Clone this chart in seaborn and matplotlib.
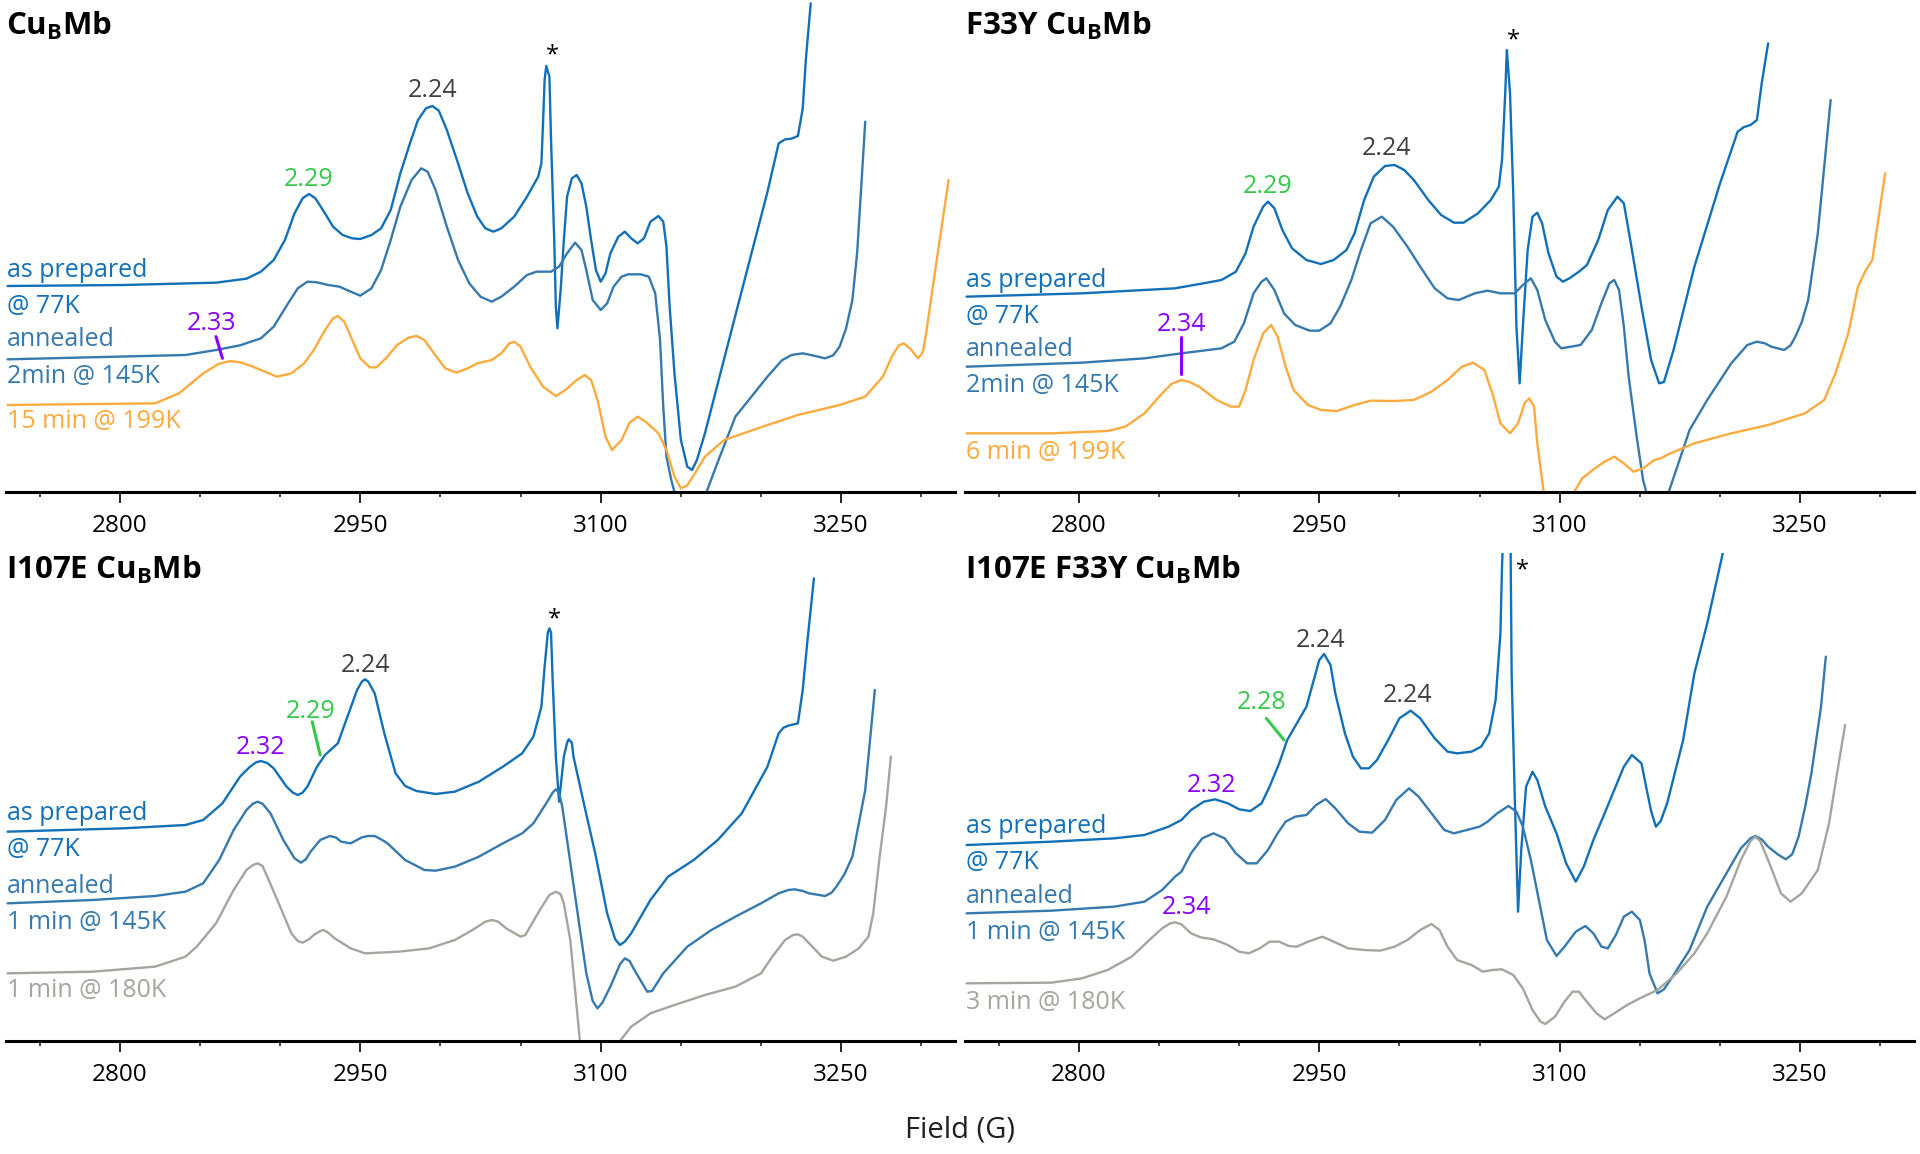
import matplotlib
matplotlib.use("Agg")
import matplotlib.pyplot as plt
import seaborn as sns

# ---- data (field in G, intensity in arbitrary units) ----
# top-left: CuBMb
tl_prep_field = [2730, 2802, 2860, 2879, 2888, 2896, 2903, 2909, 2914, 2918, 2922, 2928, 2933, 2939, 2945, 2950,
                 2957, 2963, 2969, 2975, 2981, 2986, 2991, 2995, 2999, 3004, 3011, 3017, 3023, 3028, 3033, 3038,
                 3046, 3054, 3061, 3063, 3064, 3065, 3066, 3068, 3069, 3071, 3072, 3073, 3075, 3077, 3079, 3082,
                 3085, 3088, 3091, 3094, 3097, 3100, 3103, 3106, 3111, 3115, 3119, 3123, 3127, 3131, 3136, 3139,
                 3141, 3143, 3146, 3150, 3154, 3157, 3160, 3165, 3184, 3204, 3211, 3215, 3219, 3223, 3226, 3228,
                 3231]
tl_prep_int = [618, 621, 628, 640, 661, 696, 756, 836, 881, 894, 881, 836, 796, 771, 761, 759,
               771, 791, 846, 956, 1046, 1116, 1151, 1158, 1144, 1086, 986, 896, 826, 791, 781, 791,
               826, 886, 946, 986, 1106, 1236, 1278, 1246, 1056, 756, 556, 491, 606, 756, 886, 941,
               951, 926, 856, 756, 666, 631, 656, 716, 766, 781, 761, 746, 761, 811, 828, 811,
               736, 556, 356, 156, 76, 66, 96, 176, 530, 900, 1046, 1058, 1060, 1068, 1150, 1300,
               1466]
tl_ann_field = [2730, 2841, 2860, 2875, 2888, 2896, 2905, 2911, 2917, 2923, 2930, 2937, 2944, 2950, 2957, 2963,
                2969, 2975, 2982, 2988, 2992, 2997, 3004, 3011, 3018, 3025, 3032, 3038, 3046, 3054, 3060, 3069,
                3074, 3079, 3084, 3088, 3091, 3095, 3100, 3104, 3108, 3113, 3117, 3125, 3130, 3134, 3137, 3139,
                3141, 3144, 3146, 3155, 3166, 3173, 3184, 3204, 3213, 3219, 3226, 3232, 3240, 3245, 3249, 3253,
                3257, 3260, 3262, 3265]
tl_ann_int = [398, 411, 426, 440, 461, 496, 566, 611, 631, 629, 621, 616, 601, 589, 611, 666,
              756, 856, 936, 971, 961, 906, 796, 696, 626, 586, 571, 586, 616, 651, 661, 661,
              676, 716, 748, 726, 666, 576, 546, 566, 616, 646, 653, 653, 646, 596, 456, 256,
              106, 36, 0, -250, 0, 90, 226, 346, 395, 411, 416, 410, 401, 410, 436, 490,
              576, 720, 876, 1111]
tl_hot_field = [2730, 2822, 2837, 2852, 2862, 2869, 2876, 2883, 2888, 2898, 2907, 2915, 2921, 2928, 2933, 2936,
                2940, 2945, 2950, 2956, 2960, 2966, 2973, 2980, 2985, 2990, 2996, 3003, 3010, 3017, 3023, 3032,
                3038, 3043, 3046, 3050, 3056, 3064, 3072, 3078, 3085, 3090, 3094, 3098, 3103, 3107, 3113, 3118,
                3123, 3128, 3136, 3141, 3146, 3150, 3154, 3158, 3165, 3177, 3204, 3223, 3249, 3265, 3276, 3282,
                3286, 3289, 3293, 3298, 3301, 3303, 3309, 3317]
tl_hot_int = [261, 266, 296, 356, 385, 393, 388, 376, 366, 346, 356, 386, 426, 486, 521, 528,
              511, 456, 401, 374, 374, 401, 441, 463, 468, 456, 416, 371, 358, 371, 386, 396,
              416, 446, 451, 436, 376, 316, 288, 306, 336, 351, 336, 276, 166, 126, 156, 208,
              226, 211, 176, 126, 46, 11, 20, 50, 106, 156, 201, 231, 261, 286, 346, 410,
              440, 446, 430, 401, 420, 476, 676, 936]

# top-right: F33Y CuBMb
tr_prep_field = [2730, 2802, 2860, 2880, 2889, 2898, 2904, 2909, 2915, 2918, 2922, 2927, 2933, 2942, 2951, 2959,
                 2967, 2972, 2978, 2984, 2991, 2997, 3003, 3009, 3018, 3026, 3034, 3040, 3049, 3057, 3062, 3064,
                 3066, 3067, 3069, 3071, 3073, 3075, 3077, 3080, 3083, 3086, 3089, 3093, 3098, 3102, 3106, 3112,
                 3117, 3124, 3130, 3136, 3140, 3144, 3151, 3157, 3162, 3165, 3171, 3184, 3200, 3211, 3215, 3219,
                 3223, 3226, 3230]
tr_prep_int = [586, 596, 611, 628, 636, 661, 716, 796, 856, 871, 851, 786, 731, 696, 684, 696,
               726, 776, 876, 946, 978, 981, 966, 936, 876, 831, 808, 808, 836, 876, 916, 996,
               1196, 1326, 1196, 896, 496, 326, 496, 726, 826, 838, 806, 716, 646, 631, 641, 661,
               681, 756, 846, 886, 866, 756, 556, 396, 326, 330, 426, 676, 926, 1081, 1095, 1101,
               1116, 1226, 1346]
tr_ann_field = [2730, 2802, 2841, 2864, 2889, 2897, 2903, 2909, 2914, 2917, 2922, 2928, 2935, 2944, 2950, 2957,
                2963, 2970, 2976, 2982, 2989, 2996, 3005, 3013, 3022, 3030, 3037, 3047, 3055, 3063, 3072, 3077,
                3082, 3086, 3091, 3097, 3101, 3107, 3113, 3120, 3126, 3131, 3134, 3137, 3140, 3143, 3148, 3152,
                3154, 3161, 3168, 3181, 3192, 3207, 3217, 3223, 3228, 3232, 3240, 3244, 3247, 3251, 3255, 3261,
                3265, 3269]
tr_ann_int = [376, 388, 401, 416, 431, 451, 506, 596, 631, 641, 606, 536, 501, 484, 484, 506,
              556, 636, 726, 806, 826, 796, 736, 676, 611, 581, 576, 596, 604, 596, 596, 621,
              641, 606, 516, 451, 431, 436, 441, 486, 566, 626, 636, 606, 496, 346, 166, 36,
              0, -200, 0, 186, 276, 386, 441, 451, 446, 436, 426, 440, 466, 510, 576, 776,
              976, 1176]
tr_hot_field = [2730, 2783, 2818, 2829, 2841, 2852, 2858, 2864, 2869, 2875, 2886, 2895, 2900, 2904, 2909, 2915,
                2920, 2924, 2929, 2934, 2943, 2951, 2961, 2972, 2982, 2997, 3009, 3020, 3030, 3039, 3046, 3053,
                3058, 3063, 3069, 3074, 3078, 3081, 3084, 3086, 3089, 3090, 3098, 3109, 3114, 3122, 3128, 3134,
                3140, 3146, 3152, 3159, 3163, 3169, 3184, 3207, 3230, 3253, 3265, 3272, 3280, 3286, 3291, 3295,
                3299, 3303]
tr_hot_int = [176, 176, 183, 196, 236, 296, 325, 336, 330, 316, 276, 256, 256, 306, 396, 476,
              501, 466, 376, 306, 261, 246, 243, 261, 274, 273, 276, 301, 336, 376, 388, 366,
              296, 206, 176, 206, 266, 281, 256, 146, 36, 0, -200, 0, 41, 71, 91, 106,
              86, 61, 71, 96, 101, 116, 146, 176, 201, 236, 276, 356, 476, 616, 666, 696,
              826, 956]

# bottom-left: I107E CuBMb
bl_prep_field = [2730, 2802, 2841, 2852, 2864, 2875, 2881, 2885, 2888, 2892, 2896, 2904, 2908, 2911, 2914, 2917,
                 2923, 2928, 2936, 2942, 2948, 2951, 2953, 2955, 2959, 2965, 2972, 2978, 2985, 2997, 3009, 3024,
                 3039, 3051, 3058, 3063, 3065, 3067, 3068, 3069, 3070, 3072, 3074, 3077, 3079, 3080, 3082, 3083,
                 3089, 3097, 3104, 3109, 3112, 3115, 3119, 3131, 3142, 3158, 3173, 3188, 3204, 3211, 3214, 3217,
                 3223, 3226, 3229, 3233]
bl_prep_int = [628, 638, 648, 663, 713, 793, 822, 836, 840, 834, 818, 763, 745, 738, 745, 763,
               823, 858, 893, 973, 1053, 1078, 1085, 1078, 1043, 923, 803, 765, 750, 741, 748, 778,
               823, 863, 913, 1003, 1123, 1225, 1238, 1225, 1083, 853, 718, 853, 895, 905, 895, 853,
               723, 553, 383, 305, 288, 298, 323, 423, 493, 543, 603, 683, 823, 923, 940, 946,
               953, 1053, 1203, 1388]
bl_ann_field = [2730, 2783, 2822, 2841, 2852, 2862, 2871, 2879, 2883, 2886, 2889, 2894, 2902, 2909, 2913, 2916,
                2919, 2925, 2931, 2935, 2938, 2944, 2951, 2955, 2959, 2963, 2967, 2978, 2990, 2997, 3009, 3024,
                3039, 3051, 3058, 3066, 3070, 3072, 3074, 3076, 3079, 3085, 3091, 3095, 3098, 3101, 3106, 3112,
                3115, 3118, 3121, 3129, 3132, 3139, 3154, 3169, 3184, 3200, 3211, 3217, 3221, 3226, 3230, 3240,
                3244, 3247, 3252, 3257, 3265, 3268, 3271]
bl_ann_int = [413, 423, 435, 448, 473, 543, 633, 693, 712, 718, 712, 683, 603, 548, 535, 545,
              568, 603, 615, 610, 598, 593, 611, 615, 615, 605, 593, 543, 513, 511, 523, 553,
              593, 623, 653, 713, 745, 755, 745, 703, 603, 403, 203, 120, 98, 115, 163, 230,
              248, 240, 213, 148, 150, 203, 283, 333, 373, 413, 443, 453, 455, 450, 443, 435,
              445, 463, 500, 553, 753, 903, 1053]
bl_hot_field = [2730, 2783, 2822, 2841, 2848, 2860, 2871, 2879, 2883, 2886, 2889, 2892, 2900, 2907, 2911, 2914,
                2918, 2921, 2925, 2927, 2930, 2934, 2944, 2953, 2974, 2993, 3009, 3020, 3028, 3032, 3036, 3041,
                3050, 3053, 3056, 3062, 3068, 3072, 3075, 3077, 3081, 3084, 3087, 3098, 3112, 3119, 3131, 3146,
                3165, 3184, 3200, 3207, 3215, 3220, 3223, 3226, 3230, 3238, 3245, 3253, 3261, 3267, 3270, 3274,
                3278, 3281]
bl_hot_int = [203, 208, 223, 253, 283, 353, 453, 513, 528, 533, 525, 493, 403, 323, 300, 295,
              305, 318, 330, 333, 325, 308, 278, 263, 268, 278, 303, 333, 358, 363, 358, 338,
              313, 318, 343, 393, 438, 448, 440, 413, 303, 153, 0, -200, 0, 43, 83, 108,
              138, 163, 203, 253, 303, 318, 320, 313, 293, 253, 241, 253, 278, 313, 383, 553,
              703, 853]

# bottom-right: I107E F33Y CuBMb
br_prep_field = [2730, 2783, 2822, 2841, 2856, 2864, 2870, 2878, 2885, 2893, 2900, 2907, 2914, 2919, 2925, 2930,
                 2936, 2942, 2946, 2950, 2953, 2957, 2960, 2966, 2971, 2976, 2981, 2986, 2993, 3000, 3007, 3013,
                 3022, 3030, 3036, 3045, 3051, 3056, 3060, 3063, 3064, 3066, 3069, 3070, 3072, 3074, 3076, 3079,
                 3083, 3086, 3091, 3098, 3104, 3110, 3115, 3121, 3128, 3134, 3140, 3145, 3151, 3154, 3157, 3160,
                 3163, 3167, 3177, 3184, 3192, 3204]
br_prep_int = [588, 598, 608, 618, 643, 663, 693, 718, 725, 713, 695, 690, 713, 763, 833, 903,
               953, 1003, 1073, 1143, 1161, 1128, 1043, 923, 853, 818, 818, 843, 903, 968, 991, 968,
               908, 868, 863, 868, 883, 923, 1023, 1223, 1423, 1700, 1700, 1100, 723, 388, 573, 763,
               808, 783, 703, 623, 533, 478, 523, 603, 683, 753, 823, 858, 833, 760, 690, 643,
               660, 713, 903, 1103, 1253, 1513]
br_ann_field = [2730, 2783, 2822, 2841, 2852, 2860, 2864, 2870, 2877, 2884, 2891, 2898, 2905, 2911, 2918, 2924,
                2929, 2935, 2942, 2948, 2954, 2960, 2968, 2975, 2983, 2991, 2998, 3006, 3012, 3020, 3028, 3034,
                3042, 3050, 3055, 3061, 3068, 3073, 3077, 3082, 3087, 3092, 3098, 3103, 3110, 3116, 3121, 3126,
                3130, 3135, 3140, 3145, 3150, 3153, 3156, 3161, 3165, 3169, 3181, 3192, 3204, 3213, 3219, 3222,
                3226, 3230, 3236, 3241, 3245, 3249, 3253, 3257, 3263, 3266]
br_ann_int = [383, 391, 403, 418, 453, 493, 508, 563, 608, 623, 608, 563, 533, 533, 573, 623,
              658, 673, 678, 708, 726, 698, 653, 628, 625, 663, 723, 758, 733, 683, 633, 623,
              633, 643, 658, 683, 705, 688, 643, 543, 423, 303, 255, 283, 328, 345, 323, 283,
              278, 318, 373, 388, 363, 300, 203, 143, 155, 183, 273, 403, 503, 578, 608, 615,
              605, 583, 560, 545, 560, 613, 700, 803, 1003, 1153]
br_hot_field = [2730, 2783, 2802, 2818, 2833, 2844, 2852, 2857, 2860, 2864, 2870, 2876, 2884, 2893, 2900, 2906,
                2913, 2919, 2925, 2931, 2936, 2943, 2952, 2959, 2968, 2978, 2988, 2997, 3005, 3013, 3020, 3025,
                3030, 3036, 3045, 3052, 3058, 3064, 3071, 3077, 3083, 3088, 3091, 3097, 3103, 3108, 3112, 3116,
                3123, 3128, 3134, 3142, 3150, 3161, 3173, 3184, 3192, 3204, 3213, 3219, 3222, 3225, 3230, 3238,
                3244, 3251, 3261, 3268, 3273, 3278]
br_hot_int = [173, 175, 188, 213, 253, 303, 338, 353, 356, 350, 323, 311, 305, 288, 268, 263,
              278, 298, 298, 285, 283, 298, 313, 298, 278, 273, 271, 283, 303, 333, 351, 333,
              283, 243, 228, 208, 213, 215, 198, 158, 93, 58, 51, 73, 118, 148, 148, 123,
              83, 65, 83, 108, 128, 153, 203, 263, 323, 433, 543, 600, 613, 600, 543, 443,
              418, 443, 513, 653, 803, 948]

# left-hand labels (text, baseline intensity)
tl_labels = [("as prepared", 645), ("@ 77K", 537), ("annealed", 438), ("2min @ 145K", 327), ("15 min @ 199K", 192)]
tr_labels = [("as prepared", 615), ("@ 77K", 507), ("annealed", 408), ("2min @ 145K", 300), ("6 min @ 199K", 99)]
bl_labels = [("as prepared", 663), ("@ 77K", 555), ("annealed", 444), ("1 min @ 145K", 336), ("1 min @ 180K", 132)]
br_labels = [("as prepared", 624), ("@ 77K", 516), ("annealed", 414), ("1 min @ 145K", 306), ("3 min @ 180K", 96)]

# g-value annotations (text, field, baseline intensity, kind)
tl_notes = [("2.29", 2918, 918, "g"), ("2.24", 2995, 1185, "k"), ("*", 3070, 1291, "s"), ("2.33", 2857, 486, "p")]
tr_notes = [("2.29", 2918, 896, "g"), ("2.24", 2992, 1011, "k"), ("*", 3071, 1338, "s"), ("2.34", 2864, 483, "p")]
bl_notes = [("2.24", 2953, 1106, "k"), ("2.29", 2919, 968, "g"), ("2.32", 2888, 860, "p"), ("*", 3071, 1247, "s")]
br_notes = [("2.24", 2951, 1183, "k"), ("2.24", 3005, 1016, "k"), ("2.28", 2914, 995, "g"),
            ("2.32", 2883, 746, "p"), ("2.34", 2867, 381, "p"), ("*", 3077, 1395, "s")]

# leader lines ((field0, int0), (field1, int1), kind)
tl_leaders = [((2860, 466), (2864, 401), "p")]
tr_leaders = [((2864, 466), (2864, 354), "p")]
bl_leaders = [((2920, 958), (2925, 858), "g")]
br_leaders = [((2917, 968), (2928, 903), "g")]

titles = ["Cu$_\\mathrm{B}$Mb", "F33Y Cu$_\\mathrm{B}$Mb", "I107E Cu$_\\mathrm{B}$Mb", "I107E F33Y Cu$_\\mathrm{B}$Mb"]

# ---- styling ----
sns.set_theme(style="white")
plt.rcParams['font.family'] = ['Open Sans', 'DejaVu Sans']
plt.rcParams['mathtext.fontset'] = 'custom'
plt.rcParams['mathtext.rm'] = 'Open Sans:bold'
plt.rcParams['mathtext.default'] = 'rm'

c_prep = "#1270B9"
c_ann = "#3579AE"
c_orange = "#FDAB3E"
c_gray = "#A3A69F"
note_colors = {"g": "#35C84A", "k": "#404040", "p": "#8A00FF", "s": "black"}

fig = plt.figure(figsize=(19.2, 11.54), dpi=100)
W, H = 1920.0, 1154.0

def make_ax(x0, top, bottom):
    return fig.add_axes([x0 / W, 1 - bottom / H, 949 / W, (bottom - top) / H])

panels = [
    (make_ax(6, 0, 492), 1476,
     [(tl_prep_field, tl_prep_int, c_prep), (tl_ann_field, tl_ann_int, c_ann), (tl_hot_field, tl_hot_int, c_orange)],
     tl_labels, [c_prep, c_prep, c_ann, c_ann, c_orange], tl_notes, tl_leaders),
    (make_ax(965, 0, 492), 1476,
     [(tr_prep_field, tr_prep_int, c_prep), (tr_ann_field, tr_ann_int, c_ann), (tr_hot_field, tr_hot_int, c_orange)],
     tr_labels, [c_prep, c_prep, c_ann, c_ann, c_orange], tr_notes, tr_leaders),
    (make_ax(6, 553, 1041), 1464,
     [(bl_prep_field, bl_prep_int, c_prep), (bl_ann_field, bl_ann_int, c_ann), (bl_hot_field, bl_hot_int, c_gray)],
     bl_labels, [c_prep, c_prep, c_ann, c_ann, c_gray], bl_notes, bl_leaders),
    (make_ax(965, 553, 1041), 1464,
     [(br_prep_field, br_prep_int, c_prep), (br_ann_field, br_ann_int, c_ann), (br_hot_field, br_hot_int, c_gray)],
     br_labels, [c_prep, c_prep, c_ann, c_ann, c_gray], br_notes, br_leaders),
]

for ax, ytop, traces, labels, label_colors, notes, leaders in panels:
    for field, inten, color in traces:
        sns.lineplot(x=field, y=inten, ax=ax, color=color, lw=1.7, estimator=None, sort=False)
    for line in ax.lines:
        line.set_solid_joinstyle("round")
    ax.set_xlim(2729, 3321)
    ax.set_ylim(0, ytop)
    ax.patch.set_alpha(0)
    for side in ["top", "left", "right"]:
        ax.spines[side].set_visible(False)
    ax.spines["bottom"].set_linewidth(2.2)
    ax.spines["bottom"].set_color("black")
    ax.set_xticks([2800, 2950, 3100, 3250])
    ax.set_xticks([2750, 2850, 2900, 3000, 3050, 3150, 3200, 3300], minor=True)
    ax.set_yticks([])
    ax.tick_params(axis="x", which="major", direction="out", length=8, width=1.2, labelsize=17.5,
                   pad=8, bottom=True, colors="black")
    ax.tick_params(axis="x", which="minor", direction="out", length=3.5, width=1.2, bottom=True)
    ax.set_xlabel("")
    ax.set_ylabel("")
    for (txt, yb), col in zip(labels, label_colors):
        ax.text(2729.5, yb, txt, color=col, fontsize=18, ha="left", va="baseline")
    for txt, fx, yb, kind in notes:
        ax.text(fx, yb, txt, color=note_colors[kind], fontsize=18 if kind != "s" else 17,
                ha="center", va="baseline")
    for (x0, y0), (x1, y1), kind in leaders:
        ax.plot([x0, x1], [y0, y1], color=note_colors[kind], lw=2.2)

title_pos = [(6, 35), (965, 35), (6, 579), (965, 579)]
for t, (px, py) in zip(titles, title_pos):
    fig.text(px / W, 1 - py / H, t, fontsize=22.5, fontweight="bold", ha="left", va="baseline", color="black")

fig.text(960 / W, 1 - 1137 / H, "Field (G)", fontsize=21, ha="center", va="baseline", color="#202020")

fig.savefig("out.png", dpi=100)
